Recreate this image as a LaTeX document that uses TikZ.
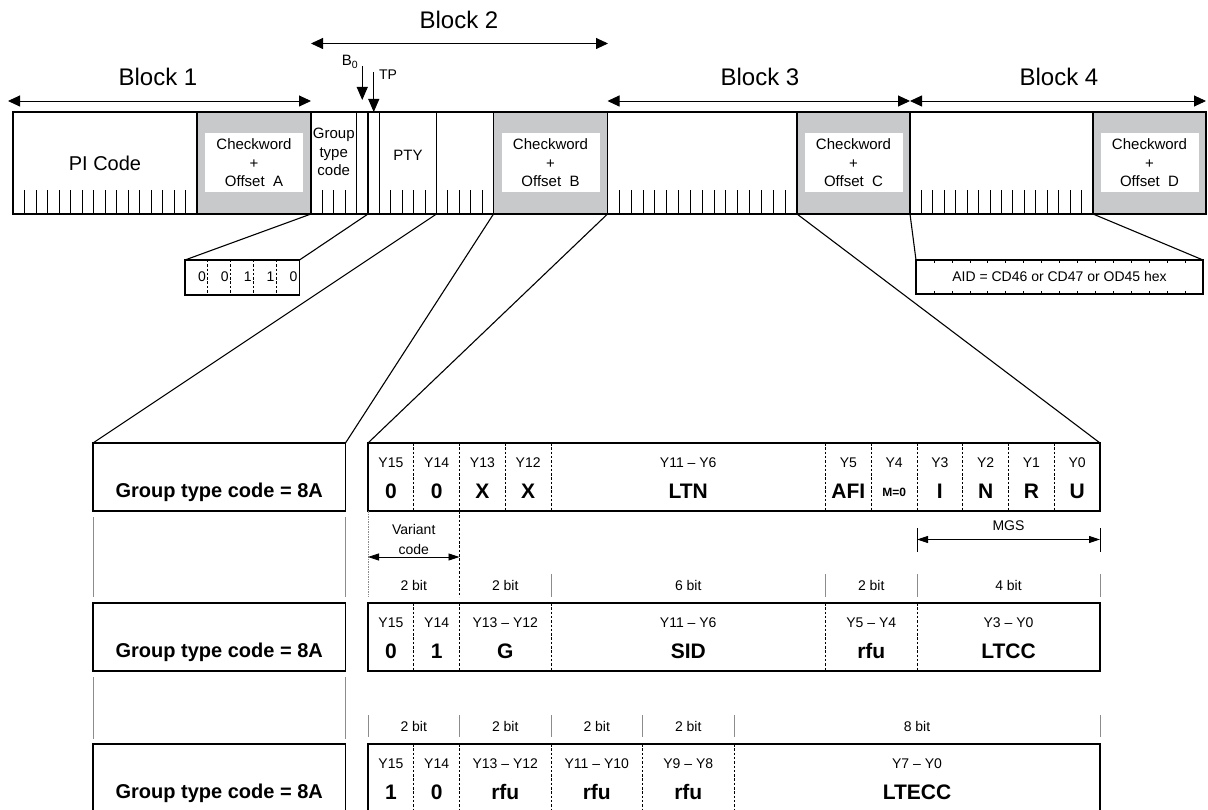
\documentclass[tikz,border=0pt]{standalone}
\usepackage{fontspec}
\setmainfont{Liberation Sans}
\usetikzlibrary{arrows.meta}
\definecolor{cwgray}{RGB}{200,201,203}
\definecolor{sepgray}{RGB}{140,140,140}
\newcommand{\fsz}[1]{\fontsize{#1}{#1}\selectfont}
\begin{document}
\begin{tikzpicture}[x=1pt,y=-1pt,
  field/.style={draw, line width=1.2pt, inner sep=0pt, outer sep=0pt, minimum height=102pt},
  cwfield/.style={field, fill=cwgray},
  cwtext/.style={fill=white, inner sep=0pt, minimum width=98pt, minimum height=59pt, align=center, font=\fontsize{15}{18.5}\selectfont},
  tickline/.style={line width=0.9pt},
  conn/.style={line width=1.1pt},
  barrow/.style={line width=0.9pt, {Triangle[length=12pt,width=11pt]}-{Triangle[length=12pt,width=11pt]}},
  darrow/.style={line width=0.9pt, -{Triangle[length=13pt,width=11pt]}},
  sarrow/.style={line width=0.8pt, {Triangle[length=11pt,width=7pt]}-{Triangle[length=11pt,width=7pt]}},
  blocklabel/.style={font=\fsz{24}, anchor=base, inner sep=0pt},
  tbox/.style={draw, line width=1.4pt, inner sep=0pt, outer sep=0pt, minimum height=68pt},
  lbl/.style={font=\fsz{14}, inner sep=0pt, anchor=base},
  val/.style={font=\bfseries\fsz{21}, inner sep=0pt, anchor=base},
  dsep/.style={line width=0.9pt, dash pattern=on 2.5pt off 1.8pt},
  gsep/.style={line width=0.8pt, draw=sepgray},
]
\useasboundingbox (0,0) rectangle (1208,810);

% ---------- top bar ----------
\node[field, minimum width=184pt] (pi) at (105,163) {};
\node[cwfield, minimum width=114pt] (cwA) at (254,163) {};
\node[field, minimum width=45.5pt] (gtc) at (333.75,163) {};
\node[field, minimum width=11.5pt] (b0) at (362.25,163) {};
\node[field, minimum width=11.5pt] (tp) at (373.75,163) {};
\node[field, minimum width=57pt] (pty) at (408,163) {};
\node[field, minimum width=57pt] (f5) at (465,163) {};
\node[cwfield, minimum width=114pt] (cwB) at (550.5,163) {};
\node[field, minimum width=189.5pt] (b3) at (702.25,163) {};
\node[cwfield, minimum width=113pt] (cwC) at (853.5,163) {};
\node[field, minimum width=183pt] (b4) at (1001.5,163) {};
\node[cwfield, minimum width=113pt] (cwD) at (1149.5,163) {};

\foreach \xa/\xb/\n in {13/197/16, 311/356.5/4, 379.5/436.5/5, 436.5/493.5/5, 607.5/797/16, 910/1093/16} {
  \pgfmathtruncatemacro\m{\n-1}
  \foreach \i in {1,...,\m} { \draw[tickline] ({\xa+(\xb-\xa)*\i/\n},190) -- ++(0,24); }
}

\node[cwtext] (cwAt) at (cwA) {Checkword\\+\\Offset\ \ A};
\node[cwtext] (cwBt) at (cwB) {Checkword\\+\\Offset\ \ B};
\node[cwtext] (cwCt) at (cwC) {Checkword\\+\\Offset\ \ C};
\node[cwtext] (cwDt) at (cwD) {Checkword\\+\\Offset\ \ D};

\node[font=\fsz{20}, inner sep=0pt] (pit) at (105,163) {PI Code};
\node[font=\fsz{15}, anchor=base, inner sep=0pt] (g1) at (333.75,139) {Group};
\node[font=\fsz{15}, anchor=base, inner sep=0pt] (g2) at (333.75,157.5) {type};
\node[font=\fsz{15}, anchor=base, inner sep=0pt] (g3) at (333.75,176) {code};
\node[font=\fsz{15}, anchor=base, inner sep=0pt] (ptyt) at (408,161) {PTY};

% ---------- block arrows ----------
\coordinate (a1l) at (8,101);     \coordinate (a1r) at (311,101);
\coordinate (a2l) at (311,43.5);  \coordinate (a2r) at (608,43.5);
\coordinate (a3l) at (607.5,101); \coordinate (a3r) at (910,101);
\coordinate (a4l) at (910,101);   \coordinate (a4r) at (1206,101);
\draw[barrow] (a1l) -- (a1r);
\draw[barrow] (a2l) -- (a2r);
\draw[barrow] (a3l) -- (a3r);
\draw[barrow] (a4l) -- (a4r);
\node[blocklabel] (bl1) at (158,86) {Block 1};
\node[blocklabel] (bl2) at (459,28.5) {Block 2};
\node[blocklabel] (bl3) at (760,86) {Block 3};
\node[blocklabel] (bl4) at (1059,86) {Block 4};

% ---------- B0 / TP ----------
\coordinate (b0s) at (362.25,66); \coordinate (b0e) at (362.25,100);
\coordinate (tps) at (373.75,72);
\draw[darrow] (b0s) -- (b0e);
\draw[darrow] (tps) -- (tp.north);
\node[font=\fsz{15}, anchor=base, inner sep=0pt] (b0t) at (350,66) {B\textsubscript{0}};
\node[font=\fsz{14}, anchor=base, inner sep=0pt] (tpt) at (388,80) {TP};

% ---------- group type bits box ----------
\node[draw, line width=1.2pt, minimum width=114.5pt, minimum height=35pt, inner sep=0pt, outer sep=0pt] (gbits) at (242.25,277.5) {};
\foreach \k in {1,...,4} { \draw[dsep] ({185+22.9*\k},260) -- ++(0,35); }
\foreach \k/\d in {1/0,2/0,3/1,4/1,5/0} { \node[lbl] (gd\k) at ({185+22.9*\k-6},282) {\d}; }
\draw[conn] (cwA.south east) -- (gbits.north west);
\draw[conn] (b0.south east) -- (gbits.north east);

% ---------- AID box ----------
\node[draw, line width=1.2pt, minimum width=287pt, minimum height=34pt, inner sep=0pt, outer sep=0pt] (aid) at (1059.5,277) {};
\foreach \k in {1,...,15} {
  \draw[line width=0.6pt] ({916+17.94*\k},260) -- ++(0,3);
  \draw[line width=0.6pt] ({916+17.94*\k},294) -- ++(0,-3);
}
\node[lbl] (aidt) at (1059.5,282) {AID = CD46 or CD47 or OD45 hex};
\draw[conn] (b4.south west) -- (aid.north west);
\draw[conn] (cwD.south west) -- (aid.north east);

% ---------- lower table ----------
\foreach \r/\t in {1/443, 2/603, 3/744} {
  \node[tbox, minimum width=252.5pt] (lb\r) at (219.25,{\t+34}) {};
  \node[font=\bfseries\fsz{20}, anchor=base, inner sep=0pt] (lbt\r) at (219.25,{\t+54}) {Group type code = 8A};
  \node[tbox, minimum width=732pt] (rb\r) at (734,{\t+34}) {};
}
\draw[conn] (f5.south west) -- (lb1.north west);
\draw[conn] (cwB.south west) -- (lb1.north east);
\draw[conn] (cwB.south east) -- (rb1.north west);
\draw[conn] (cwC.south west) -- (rb1.north east);

\foreach \k in {1,2,3,4,10,11,12,13,14,15} { \draw[dsep] ({368+45.75*\k},443) -- ++(0,68); }
\foreach \k in {1,2,4,10,12} { \draw[dsep] ({368+45.75*\k},603) -- ++(0,68); }
\foreach \k in {1,2,4,6,8} { \draw[dsep] ({368+45.75*\k},744) -- ++(0,68); }

% row 1
\foreach \a/\b/\l/\v [count=\c] in {0/1/Y15/0, 1/2/Y14/0, 2/3/Y13/X, 3/4/Y12/X, 4/10/Y11 – Y6/LTN, 10/11/Y5/AFI, 12/13/Y3/I, 13/14/Y2/N, 14/15/Y1/R, 15/16/Y0/U} {
  \node[lbl] (ra\c) at ({368+45.75*(\a+\b)/2},467) {\l};
  \node[val] (va\c) at ({368+45.75*(\a+\b)/2},498.5) {\v};
}
\node[lbl] (ray4) at (894.1,467) {Y4};
\node[font=\bfseries\fsz{12}, anchor=base, inner sep=0pt] (vay4) at (894.1,496) {M=0};

% row 2
\foreach \a/\b/\l/\v [count=\c] in {0/1/Y15/0, 1/2/Y14/1, 2/4/Y13 – Y12/G, 4/10/Y11 – Y6/SID, 10/12/Y5 – Y4/rfu, 12/16/Y3 – Y0/LTCC} {
  \node[lbl] (rb\c) at ({368+45.75*(\a+\b)/2},627) {\l};
  \node[val] (vb\c) at ({368+45.75*(\a+\b)/2},658.5) {\v};
}
% row 3
\foreach \a/\b/\l/\v [count=\c] in {0/1/Y15/1, 1/2/Y14/0, 2/4/Y13 – Y12/rfu, 4/6/Y11 – Y10/rfu, 6/8/Y9 – Y8/rfu, 8/16/Y7 – Y0/LTECC} {
  \node[lbl] (rc\c) at ({368+45.75*(\a+\b)/2},768) {\l};
  \node[val] (vc\c) at ({368+45.75*(\a+\b)/2},799) {\v};
}

% ---------- between rows ----------
\foreach \x in {93,345.5} {
  \draw[gsep] (\x,517) -- (\x,597);
  \draw[gsep] (\x,677) -- (\x,739);
}
\draw[gsep, dash pattern=on 1.5pt off 1pt] (368,511) -- (368,597);
\draw[dsep] (459.5,511) -- (459.5,597);
\foreach \x in {551,825.5,917,1100} { \draw[gsep] (\x,574) -- (\x,597); }
\foreach \x in {368,459.5,551,642.5,734,1100} { \draw[gsep] (\x,715) -- (\x,737); }

\foreach \x/\t [count=\c] in {413.75/2 bit, 505.25/2 bit, 688.25/6 bit, 871.25/2 bit, 1008.5/4 bit} {
  \node[lbl] (bw\c) at (\x,590) {\t};
}
\foreach \x/\t [count=\c] in {413.75/2 bit, 505.25/2 bit, 596.75/2 bit, 688.25/2 bit, 917/8 bit} {
  \node[lbl] (bx\c) at (\x,731) {\t};
}

% variant code
\node[lbl] (vc1t) at (413.75,534) {Variant};
\node[lbl] (vc2t) at (413.75,554) {code};
\coordinate (vl) at (368,557); \coordinate (vr) at (459.5,557);
\draw[sarrow] (vl) -- (vr);

% MGS
\node[lbl] (mgs) at (1008.5,530) {MGS};
\coordinate (ml) at (917,539.5); \coordinate (mr) at (1100,539.5);
\draw[sarrow] (ml) -- (mr);
\draw[line width=0.8pt] (917,528) -- (917,552);
\draw[line width=0.8pt] (1100,528) -- (1100,552);

\end{tikzpicture}
\end{document}
